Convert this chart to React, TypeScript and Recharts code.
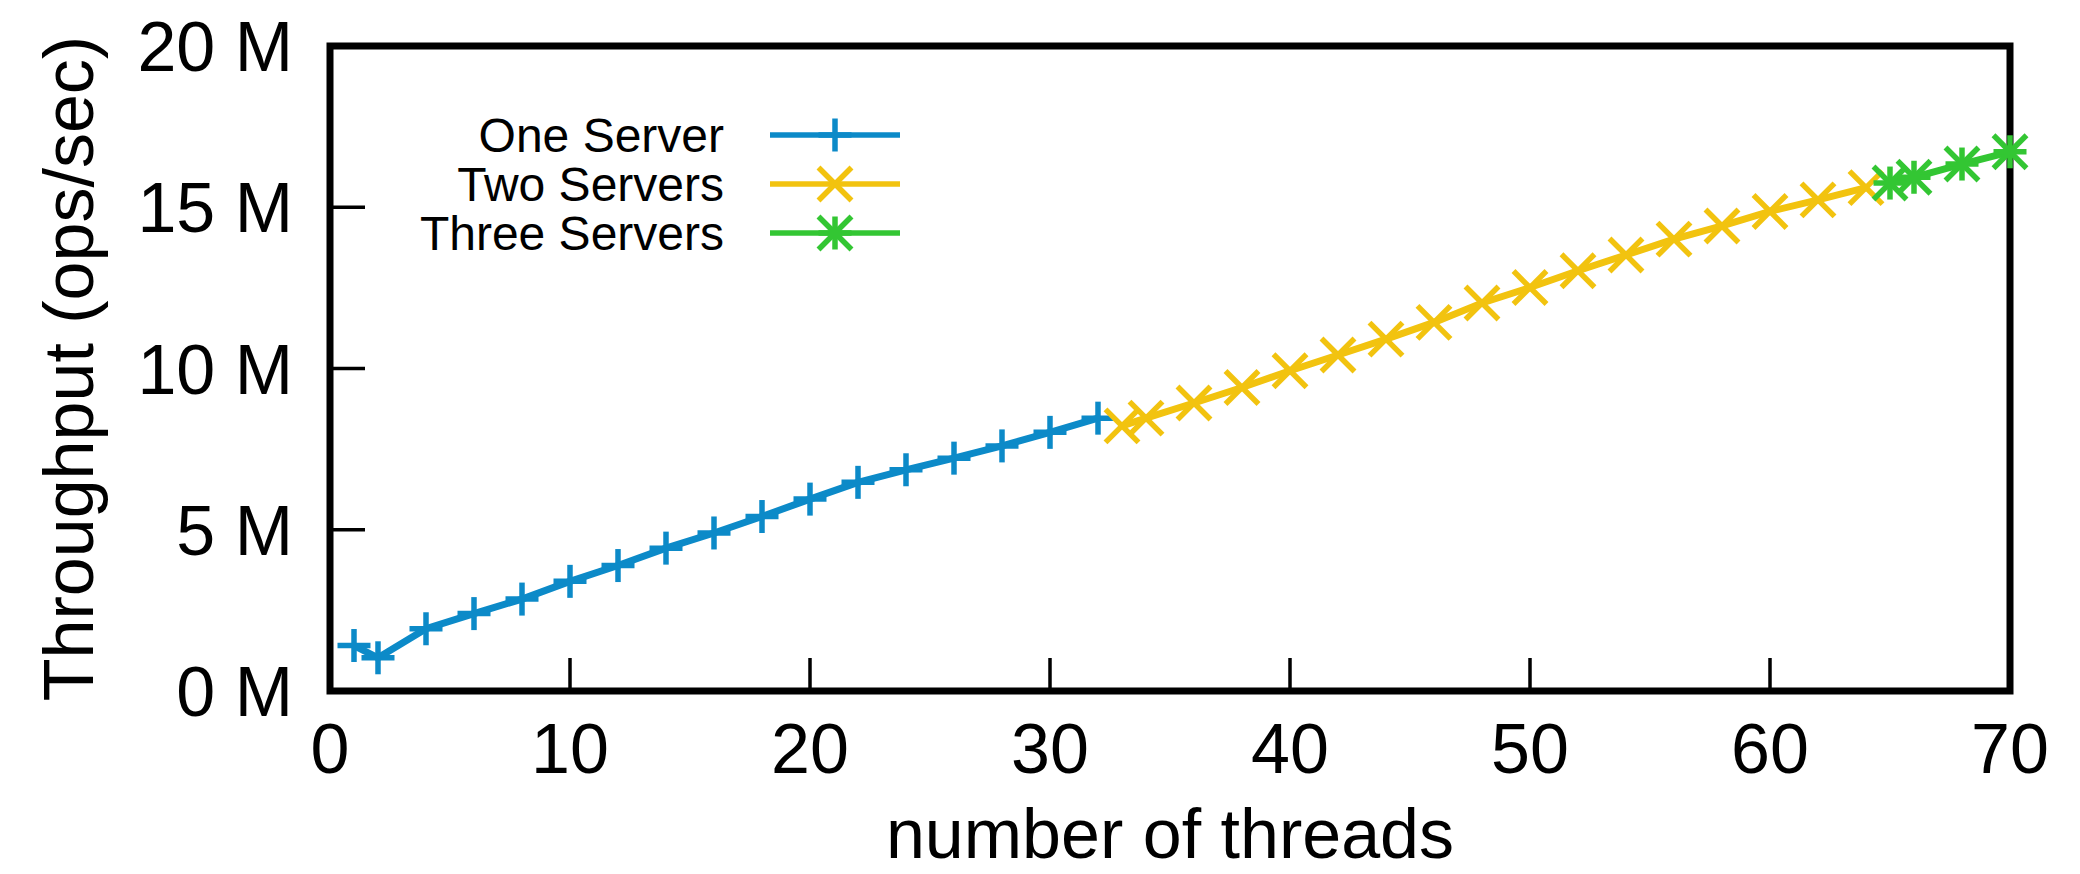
import React from "react";
import { LineChart, Line, XAxis, YAxis, ReferenceArea, Legend } from "recharts";

// threads -> throughput in millions of ops/sec
const oneServerThreads = [1, 2, 4, 6, 8, 10, 12, 14, 16, 18, 20, 22, 24, 26, 28, 30, 32];
const oneServerOps = [1.41, 1.03, 1.93, 2.4, 2.85, 3.4, 3.89, 4.43, 4.9, 5.41, 5.95, 6.47, 6.86, 7.22, 7.6, 8.02, 8.46];

const twoServerThreads = [33, 34, 36, 38, 40, 42, 44, 46, 48, 50, 52, 54, 56, 58, 60, 62, 64];
const twoServerOps = [8.22, 8.46, 8.93, 9.41, 9.93, 10.42, 10.91, 11.43, 12.03, 12.51, 13.03, 13.52, 14.01, 14.42, 14.87, 15.23, 15.61];

const threeServerThreads = [65, 66, 68, 70];
const threeServerOps = [15.75, 15.93, 16.34, 16.72];

const xTicks = [0, 10, 20, 30, 40, 50, 60, 70];
const yTicks = [0, 5, 10, 15, 20];

const BLUE = "#0c8ac8";
const YELLOW = "#f2c30f";
const GREEN = "#33c633";
const FONT = "'Liberation Sans', Arial, Helvetica, sans-serif";

const toRows = (xs: number[], ys: number[]) => xs.map((t, i) => ({ threads: t, ops: ys[i] }));

const series = [
  { name: "One Server", color: BLUE, marker: "plus", data: toRows(oneServerThreads, oneServerOps) },
  { name: "Two Servers", color: YELLOW, marker: "cross", data: toRows(twoServerThreads, twoServerOps) },
  { name: "Three Servers", color: GREEN, marker: "star", data: toRows(threeServerThreads, threeServerOps) },
];

const Marker = ({ cx, cy, color, kind }: any) => {
  const s = 16.5;
  const plus = (
    <>
      <line x1={cx - s} x2={cx + s} y1={cy} y2={cy} />
      <line x1={cx} x2={cx} y1={cy - s} y2={cy + s} />
    </>
  );
  const cross = (
    <>
      <line x1={cx - s} x2={cx + s} y1={cy - s} y2={cy + s} />
      <line x1={cx - s} x2={cx + s} y1={cy + s} y2={cy - s} />
    </>
  );
  return (
    <g stroke={color} strokeWidth={5.5} fill="none">
      {kind !== "cross" && plus}
      {kind !== "plus" && cross}
    </g>
  );
};

const BottomTick = ({ x, y, payload }: any) => (
  <g>
    {payload.value > 0 && payload.value < 70 && (
      <line x1={x} x2={x} y1={y} y2={y - 33} stroke="#000" strokeWidth={3.5} />
    )}
    <text x={x} y={y + 82} textAnchor="middle" fontSize={70} fontFamily={FONT} fill="#000">
      {payload.value}
    </text>
  </g>
);

const TopTick = ({ x, y }: any) => <line x1={x} x2={x} y1={y} y2={y + 33} stroke="#000" strokeWidth={3.5} />;

const LeftTick = ({ x, y, payload }: any) => (
  <g>
    {payload.value > 0 && payload.value < 20 && (
      <line x1={x} x2={x + 35} y1={y} y2={y} stroke="#000" strokeWidth={3.5} />
    )}
    <text x={x - 37} y={y + 25} textAnchor="end" fontSize={70} fontFamily={FONT} fill="#000">
      {`${payload.value} M`}
    </text>
  </g>
);

const RightTick = ({ x, y }: any) => <line x1={x} x2={x - 35} y1={y} y2={y} stroke="#000" strokeWidth={3.5} />;

const LegendBox = () => (
  <svg width={960} height={280} style={{ display: "block" }}>
    {series.map((s, i) => {
      const cy = 135 + i * 49;
      return (
        <g key={s.name}>
          <text x={724} y={cy + 17} textAnchor="end" fontSize={48} fontFamily={FONT} fill="#000">
            {s.name}
          </text>
          <line x1={770} x2={900} y1={cy} y2={cy} stroke={s.color} strokeWidth={5.5} />
          <Marker cx={835} cy={cy} color={s.color} kind={s.marker} />
        </g>
      );
    })}
  </svg>
);

export default function App() {
  return (
    <div style={{ position: "absolute", left: 0, top: 0, width: 2080, height: 874, background: "#fff" }}>
      <LineChart width={2080} height={874} margin={{ top: 16, right: 10, bottom: 153, left: 270 }}>
        <XAxis
          xAxisId="bottom"
          type="number"
          dataKey="threads"
          domain={[0, 70]}
          ticks={xTicks}
          interval={0}
          height={30}
          tickSize={0}
          tickMargin={0}
          axisLine={false}
          tickLine={false}
          tick={<BottomTick />}
        />
        <XAxis
          xAxisId="top"
          orientation="top"
          type="number"
          dataKey="threads"
          domain={[0, 70]}
          ticks={[10, 20, 30, 40, 50, 60]}
          interval={0}
          height={30}
          tickSize={0}
          tickMargin={0}
          axisLine={false}
          tickLine={false}
          tick={<TopTick />}
        />
        <YAxis
          yAxisId="left"
          type="number"
          domain={[0, 20]}
          ticks={yTicks}
          interval={0}
          width={60}
          tickSize={0}
          tickMargin={0}
          axisLine={false}
          tickLine={false}
          tick={<LeftTick />}
          label={{
            content: ({ viewBox }: any) => (
              <text
                x={93}
                y={viewBox.y + viewBox.height / 2}
                transform={`rotate(-90 93 ${viewBox.y + viewBox.height / 2})`}
                textAnchor="middle"
                fontSize={70}
                fontFamily={FONT}
                fill="#000"
              >
                Throughput (ops/sec)
              </text>
            ),
          }}
        />
        <YAxis
          yAxisId="right"
          orientation="right"
          type="number"
          domain={[0, 20]}
          ticks={[5, 10, 15]}
          interval={0}
          width={60}
          tickSize={0}
          tickMargin={0}
          axisLine={false}
          tickLine={false}
          tick={<RightTick />}
        />
        <Legend
          layout="vertical"
          align="center"
          verticalAlign="middle"
          wrapperStyle={{ left: 0, top: 0, width: 960, height: 280 }}
          content={() => <LegendBox />}
        />
        {series.map((s) => (
          <Line
            key={s.name}
            xAxisId="bottom"
            yAxisId="left"
            data={s.data}
            dataKey="ops"
            name={s.name}
            type="linear"
            stroke={s.color}
            strokeWidth={7}
            isAnimationActive={false}
            dot={(p: any) => <Marker key={`${s.name}-${p.index}`} cx={p.cx} cy={p.cy} color={s.color} kind={s.marker} />}
            activeDot={false}
          />
        ))}
        <ReferenceArea
          xAxisId="bottom"
          yAxisId="left"
          x1={0}
          x2={70}
          y1={0}
          y2={20}
          fill="none"
          stroke="#000"
          strokeWidth={7}
        />
        <text x={1170} y={858} textAnchor="middle" fontSize={70} fontFamily={FONT} fill="#000">
          number of threads
        </text>
      </LineChart>
    </div>
  );
}
